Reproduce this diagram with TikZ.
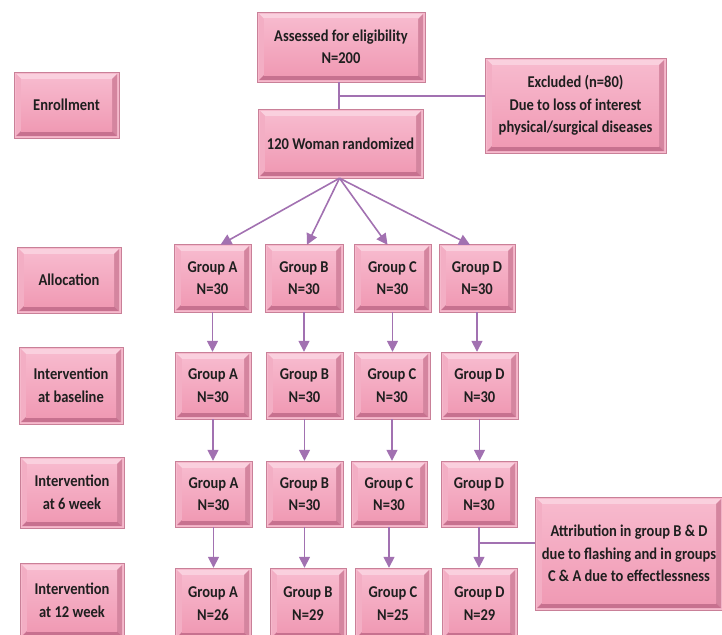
\documentclass[tikz,border=0pt]{standalone}
\usepackage{fontspec}
\setmainfont[FakeStretch=0.88]{Carlito}
\usetikzlibrary{arrows.meta,calc}
\definecolor{bvline}{HTML}{C98098}
\definecolor{bvrim}{HTML}{F6B9CC}
\definecolor{bvtop}{HTML}{FAD0DE}
\definecolor{bvleft}{HTML}{F3AEC4}
\definecolor{bvright}{HTML}{D4859F}
\definecolor{bvbot}{HTML}{C7718F}
\definecolor{facetop}{HTML}{F7B9CD}
\definecolor{facebot}{HTML}{F09AB4}
\definecolor{connc}{HTML}{A271B1}
\tikzset{
  txt/.style={font=\fontsize{16.5}{22.5}\selectfont\bfseries, align=center, text={black!88}, inner sep=0pt, draw=none},
  conn/.style={draw=connc, line width=1.6pt},
  arr/.style={conn, -{Triangle[length=11pt,width=11pt]}},
}
\newcommand\bevbox[6]{%
  \fill[bvrim,draw=bvline,line width=0.8pt] (#2,#3) rectangle (#4,#5);
  \fill[bvtop] ({#2+2},{#3+2}) -- ({#4-2},{#3+2}) -- ({#4-7},{#3+7}) -- ({#2+7},{#3+7}) -- cycle;
  \fill[bvleft] ({#2+2},{#3+2}) -- ({#2+7},{#3+7}) -- ({#2+7},{#5-7}) -- ({#2+2},{#5-2}) -- cycle;
  \fill[bvright] ({#4-2},{#3+2}) -- ({#4-2},{#5-2}) -- ({#4-7},{#5-7}) -- ({#4-7},{#3+7}) -- cycle;
  \fill[bvbot] ({#2+2},{#5-2}) -- ({#4-2},{#5-2}) -- ({#4-7},{#5-7}) -- ({#2+7},{#5-7}) -- cycle;
  \shade[top color=facetop,bottom color=facebot] ({#2+7},{#3+7}) rectangle ({#4-7},{#5-7});
  \node[txt,minimum width={(#4-#2)*1pt},minimum height={(#5-#3)*1pt}] (#1) at ({(#2+#4)/2},{(#3+#5)/2}) {#6};%
}
\begin{document}
\begin{tikzpicture}[x=1pt,y=-1pt]
\useasboundingbox (0,0) rectangle (722,634);
\clip (0,0) rectangle (722,634);
% top part
\bevbox{assess}{257}{12}{425}{82}{\fontsize{16.5}{19.5}\selectfont Assessed for eligibility\\N=200}
\bevbox{excl}{485}{58}{666}{153}{Excluded (n=80)\\Due to loss of interest\\physical/surgical diseases}
\bevbox{rand}{258}{109}{423}{178}{120 Woman randomized}
% stage labels
\bevbox{enroll}{14}{72}{119}{138}{Enrollment}
\bevbox{alloc}{17}{247}{121}{313}{Allocation}
\bevbox{lbase}{19}{347}{123}{424}{Intervention\\at baseline}
\bevbox{lsix}{20}{457}{124}{528}{Intervention\\at 6 week}
\bevbox{ltwelve}{20}{563}{124}{638}{Intervention\\at 12 week}
% row 1
\bevbox{gA1}{174}{244}{251}{312}{Group A\\N=30}
\bevbox{gB1}{265}{244}{343}{312}{Group B\\N=30}
\bevbox{gC1}{354}{244}{431}{312}{Group C\\N=30}
\bevbox{gD1}{439}{244}{515}{312}{Group D\\N=30}
% row 2
\bevbox{gA2}{175}{352}{251}{419}{Group A\\N=30}
\bevbox{gB2}{266}{352}{343}{419}{Group B\\N=30}
\bevbox{gC2}{354}{352}{430}{419}{Group C\\N=30}
\bevbox{gD2}{441}{352}{518}{419}{Group D\\N=30}
% row 3
\bevbox{gA3}{175}{461}{252}{527}{Group A\\N=30}
\bevbox{gB3}{266}{461}{343}{527}{Group B\\N=30}
\bevbox{gC3}{351}{461}{427}{527}{Group C\\N=30}
\bevbox{gD3}{441}{461}{517}{527}{Group D\\N=30}
% row 4
\bevbox{gA4}{175}{568}{251}{639}{Group A\\N=26}
\bevbox{gB4}{270}{568}{346}{639}{Group B\\N=29}
\bevbox{gC4}{355}{568}{431}{639}{Group C\\N=25}
\bevbox{gD4}{442}{568}{517}{639}{Group D\\N=29}
% attribution
\bevbox{attr}{535}{497}{723}{610}{Attribution in group B \& D\\due to flashing and in groups\\C \& A due to effectlessness}
% connectors
\coordinate (j1) at (339,96);
\draw[conn] ([xshift=-2pt]assess.south) -- ([xshift=-1.5pt]rand.north);
\draw[conn] (j1) -- (j1 -| excl.west);
\draw[arr] ([xshift=-1pt]rand.south) -- ([xshift=8pt,yshift=-1pt]gA1.north);
\draw[arr] ([xshift=-1pt]rand.south) -- ([xshift=3pt,yshift=-1pt]gB1.north);
\draw[arr] ([xshift=-1pt]rand.south) -- ([xshift=-5pt,yshift=-1pt]gC1.north);
\draw[arr] ([xshift=-1pt]rand.south) -- ([xshift=-7pt,yshift=-1pt]gD1.north);
\foreach \c in {A,B,C,D}{
  \draw[arr] (g\c1.south) -- (g\c1.south |- g\c2.north);
  \draw[arr] (g\c2.south) -- (g\c2.south |- g\c3.north);
  \draw[arr] (g\c3.south) -- (g\c3.south |- g\c4.north);
}
\coordinate (j2) at (478,543);
\draw[conn] (j2) -- (j2 -| attr.west);
\end{tikzpicture}
\end{document}
